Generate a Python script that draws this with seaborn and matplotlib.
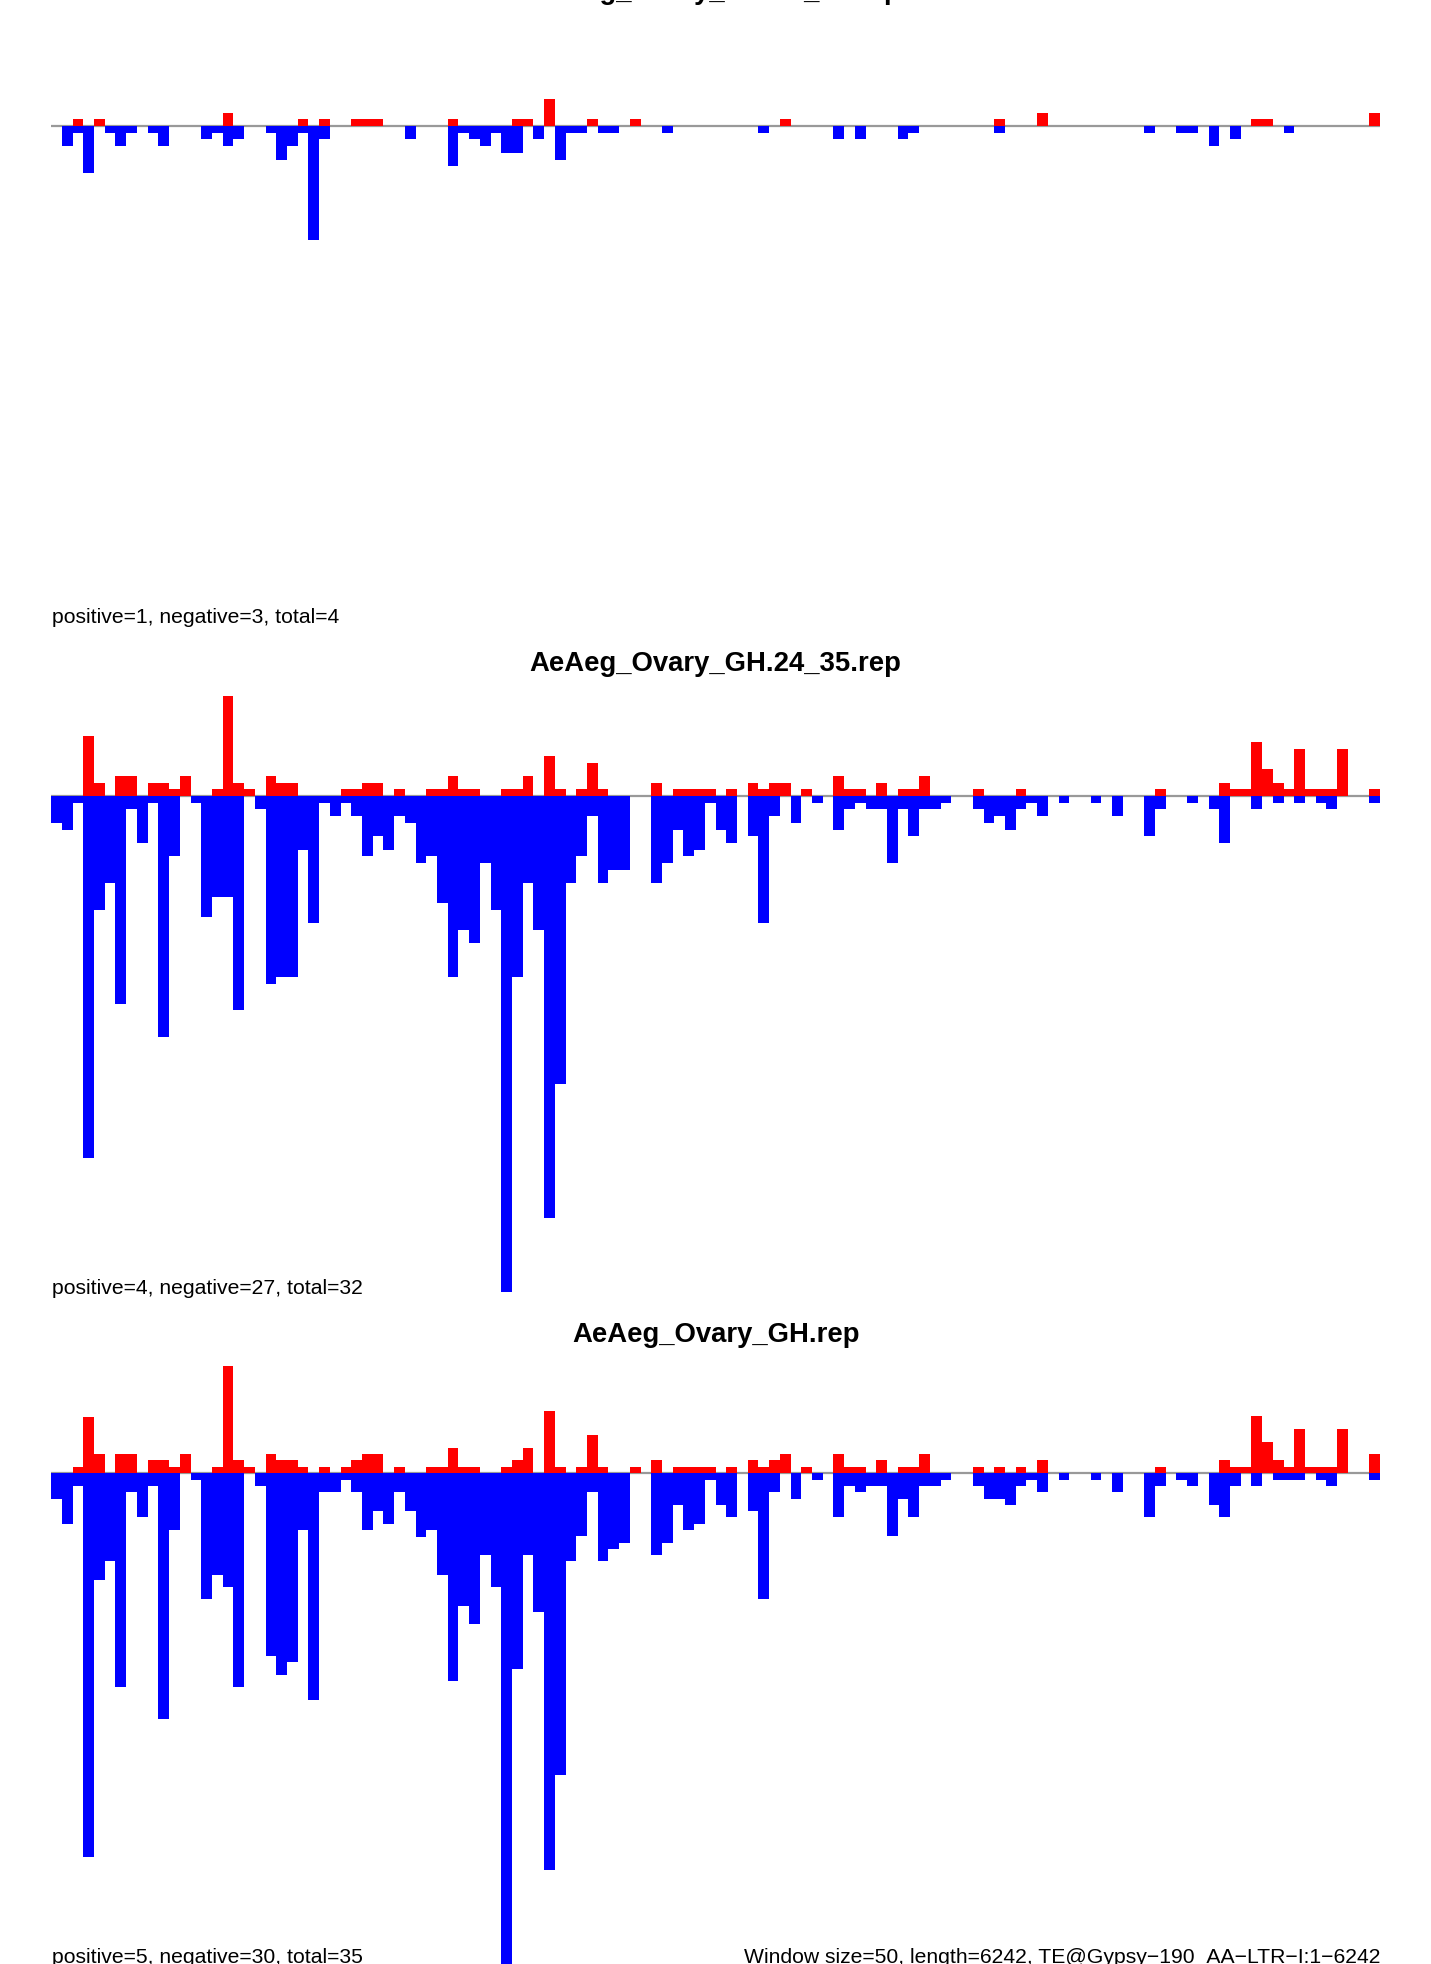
import numpy as np
import pandas as pd
import matplotlib
matplotlib.use('Agg')
import matplotlib.pyplot as plt
import seaborn as sns

sns.set_style('white')
plt.rcParams['font.family'] = ['Liberation Sans', 'DejaVu Sans']
plt.rcParams['text.color'] = 'black'

# sliding windows (50 nt) along the 6242 nt element
n_windows = 124
window = np.arange(n_windows)

titles = ['AeAeg_Ovary_GH.18_23.rep', 'AeAeg_Ovary_GH.24_35.rep', 'AeAeg_Ovary_GH.rep']
counts_text = ['positive=1, negative=3, total=4',
               'positive=4, negative=27, total=32',
               'positive=5, negative=30, total=35']
footer = 'Window size=50, length=6242, TE@Gypsy\u2212190_AA\u2212LTR\u2212I:1\u22126242'

# panel 1: 18-23 nt reads
p1_pos = [0, 0, 1, 0, 1, 0, 0, 0, 0, 0,
          0, 0, 0, 0, 0, 0, 2, 0, 0, 0,
          0, 0, 0, 1, 0, 1, 0, 0, 1, 1,
          1, 0, 0, 0, 0, 0, 0, 1, 0, 0,
          0, 0, 0, 1, 1, 0, 4, 0, 0, 0,
          1, 0, 0, 0, 1, 0, 0, 0, 0, 0,
          0, 0, 0, 0, 0, 0, 0, 0, 1, 0,
          0, 0, 0, 0, 0, 0, 0, 0, 0, 0,
          0, 0, 0, 0, 0, 0, 0, 0, 1, 0,
          0, 0, 2, 0, 0, 0, 0, 0, 0, 0,
          0, 0, 0, 0, 0, 0, 0, 0, 0, 0,
          0, 0, 1, 1, 0, 0, 0, 0, 0, 0,
          0, 0, 0, 2]
p1_neg = [0, 3, 1, 7, 0, 1, 3, 1, 0, 1,
          3, 0, 0, 0, 2, 1, 3, 2, 0, 0,
          1, 5, 3, 1, 17, 2, 0, 0, 0, 0,
          0, 0, 0, 2, 0, 0, 0, 6, 1, 2,
          3, 1, 4, 4, 0, 2, 0, 5, 1, 1,
          0, 1, 1, 0, 0, 0, 0, 1, 0, 0,
          0, 0, 0, 0, 0, 0, 1, 0, 0, 0,
          0, 0, 0, 2, 0, 2, 0, 0, 0, 2,
          1, 0, 0, 0, 0, 0, 0, 0, 1, 0,
          0, 0, 0, 0, 0, 0, 0, 0, 0, 0,
          0, 0, 1, 0, 0, 1, 1, 0, 3, 0,
          2, 0, 0, 0, 0, 1, 0, 0, 0, 0,
          0, 0, 0, 0]

# panel 2: 24-35 nt reads
p2_pos = [0, 0, 0, 9, 2, 0, 3, 3, 0, 2,
          2, 1, 3, 0, 0, 1, 15, 2, 1, 0,
          3, 2, 2, 0, 0, 0, 0, 1, 1, 2,
          2, 0, 1, 0, 0, 1, 1, 3, 1, 1,
          0, 0, 1, 1, 3, 0, 6, 1, 0, 1,
          5, 1, 0, 0, 0, 0, 2, 0, 1, 1,
          1, 1, 0, 1, 0, 2, 1, 2, 2, 0,
          1, 0, 0, 3, 1, 1, 0, 2, 0, 1,
          1, 3, 0, 0, 0, 0, 1, 0, 0, 0,
          1, 0, 0, 0, 0, 0, 0, 0, 0, 0,
          0, 0, 0, 1, 0, 0, 0, 0, 0, 2,
          1, 1, 8, 4, 2, 1, 7, 1, 1, 1,
          7, 0, 0, 1]
p2_neg = [4, 5, 1, 54, 17, 13, 31, 2, 7, 1,
          36, 9, 0, 1, 18, 15, 15, 32, 0, 2,
          28, 27, 27, 8, 19, 1, 3, 1, 3, 9,
          6, 8, 3, 4, 10, 9, 16, 27, 20, 22,
          10, 17, 74, 27, 13, 20, 63, 43, 13, 9,
          3, 13, 11, 11, 0, 0, 13, 10, 5, 9,
          8, 1, 5, 7, 0, 6, 19, 3, 0, 4,
          0, 1, 0, 5, 2, 1, 2, 2, 10, 2,
          6, 2, 2, 1, 0, 0, 2, 4, 3, 5,
          2, 1, 3, 0, 1, 0, 0, 1, 0, 3,
          0, 0, 6, 2, 0, 0, 1, 0, 2, 7,
          0, 0, 2, 0, 1, 0, 1, 0, 1, 2,
          0, 0, 0, 1]

# panel 3: all reads
p3_pos = [0, 0, 0.85, 8.4, 2.8, 0, 2.8, 2.8, 0, 1.9,
          1.9, 0.85, 2.8, 0, 0, 0.85, 15.9, 1.9, 0.85, 0,
          2.8, 1.9, 1.9, 0.85, 0, 0.85, 0, 0.85, 1.9, 2.8,
          2.8, 0, 0.85, 0, 0, 0.85, 0.85, 3.7, 0.85, 0.85,
          0, 0, 0.85, 1.9, 3.7, 0, 9.3, 0.85, 0, 0.85,
          5.6, 0.85, 0, 0, 0.85, 0, 1.9, 0, 0.85, 0.85,
          0.85, 0.85, 0, 0.85, 0, 1.9, 0.85, 1.9, 2.8, 0,
          0.85, 0, 0, 2.8, 0.85, 0.85, 0, 1.9, 0, 0.85,
          0.85, 2.8, 0, 0, 0, 0, 0.85, 0, 0.85, 0,
          0.85, 0, 1.9, 0, 0, 0, 0, 0, 0, 0,
          0, 0, 0, 0.85, 0, 0, 0, 0, 0, 1.9,
          0.85, 0.85, 8.5, 4.7, 1.9, 0.85, 6.5, 0.85, 0.85, 0.85,
          6.5, 0, 0, 2.8]
p3_neg = [3.9, 7.6, 2.0, 57.3, 16.0, 13.2, 32.0, 2.9, 6.6, 2.0,
          36.7, 8.5, 0, 1.05, 18.8, 15.2, 17.0, 32.0, 0, 2.0,
          27.3, 30.2, 28.2, 8.5, 33.9, 2.9, 2.9, 1.05, 2.9, 8.5,
          5.7, 7.6, 2.9, 5.7, 9.5, 8.5, 15.2, 31.0, 19.8, 22.5,
          12.3, 17.0, 78.0, 29.2, 12.3, 20.8, 59.2, 45.1, 13.1, 9.4,
          2.8, 13.1, 11.3, 10.4, 0, 0, 12.2, 10.4, 4.8, 8.5,
          7.6, 1.05, 4.8, 6.6, 0, 5.7, 18.8, 2.8, 0, 3.9,
          0, 1.05, 0, 6.6, 1.9, 2.8, 1.9, 1.9, 9.4, 3.9,
          6.6, 1.9, 1.9, 1.05, 0, 0, 1.9, 3.9, 3.9, 4.8,
          1.9, 1.05, 2.8, 0, 1.05, 0, 0, 1.05, 0, 2.8,
          0, 0, 6.6, 1.9, 0, 1.05, 1.9, 0, 4.8, 6.6,
          1.9, 0, 1.9, 0, 1.05, 1.05, 1.05, 0, 1.05, 1.9,
          0, 0, 0, 1.05]

W, H = 1431, 1965
fig = plt.figure(figsize=(W / 100, H / 100), dpi=100)

x_left, x_right = 51.2, 1380
unit = 6.7  # px per count
panels = [
    # top, bottom, baseline (px from top)
    (20, 640, 127),
    (690, 1300, 797),
    (1360, 1965, 1474),
]
title_y = [-1, 671.5, 1342]
count_y = [623.5, 1294, 1963]

data = [(p1_pos, p1_neg), (p2_pos, p2_neg), (p3_pos, p3_neg)]

for k, ((top, bottom, base), (pos, neg)) in enumerate(zip(panels, data)):
    ax = fig.add_axes([x_left / W, 1 - bottom / H, (x_right - x_left) / W, (bottom - top) / H])
    df = pd.DataFrame({'window': window, 'pos': pos, 'neg': -np.array(neg)})
    ax.axhline(0, color='#999999', lw=1.6, zorder=0)
    sns.barplot(data=df, x='window', y='pos', native_scale=True, width=1, color='#FF0000',
                saturation=1, linewidth=0, edgecolor='none', errorbar=None, ax=ax,
                antialiased=False)
    sns.barplot(data=df, x='window', y='neg', native_scale=True, width=1, color='#0000FF',
                saturation=1, linewidth=0, edgecolor='none', errorbar=None, ax=ax,
                antialiased=False)
    ax.set_xlim(-0.5, n_windows - 0.5)
    ax.set_ylim(-(bottom - base) / unit, (base - top) / unit)
    ax.axis('off')

    fig.text(715.6 / W, 1 - title_y[k] / H, titles[k], ha='center', va='baseline',
             fontsize=19.8, fontweight='bold', color='black')
    fig.text(51.5 / W, 1 - count_y[k] / H, counts_text[k], ha='left', va='baseline',
             fontsize=15.25, color='black')

fig.text(x_right / W, 1 - 1963 / H, footer, ha='right', va='baseline', fontsize=15.25,
         color='black')

fig.savefig('out.png', dpi=100, facecolor='white')
